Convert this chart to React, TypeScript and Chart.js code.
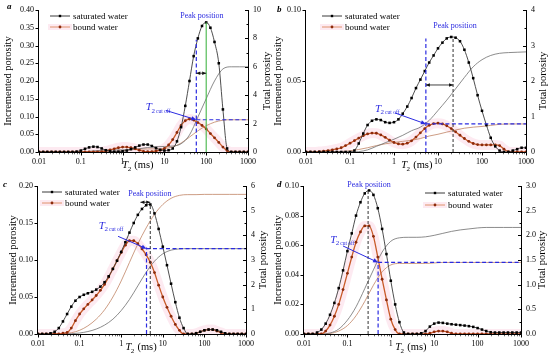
import React, { useEffect, useRef } from 'react';
import { Chart, registerables } from 'chart.js';
Chart.register(...registerables);

const FONT = "'Liberation Serif', 'Times New Roman', serif";

// T2 grid (ms), 10 points per decade
const T2 = [
  0.01, 0.0126, 0.0158, 0.02, 0.0251, 0.0316, 0.0398, 0.0501, 0.0631, 0.0794,
  0.1, 0.126, 0.158, 0.2, 0.251, 0.316, 0.398, 0.501, 0.631, 0.794,
  1, 1.26, 1.58, 2, 2.51, 3.16, 3.98, 5.01, 6.31, 7.94,
  10, 12.6, 15.8, 20, 25.1, 31.6, 39.8, 50.1, 63.1, 79.4,
  100, 126, 158, 200, 251, 316, 398, 501, 631, 794,
  1000,
];
// T2 grid for cumulative curves, 5 points per decade
const T2_CUM = [
  0.01, 0.0158, 0.0251, 0.0398, 0.0631, 0.1, 0.158, 0.251, 0.398, 0.631,
  1, 1.58, 2.51, 3.98, 6.31, 10, 15.8, 25.1, 39.8, 63.1,
  100, 158, 251, 398, 631, 1000,
];
const X_TICKS = [0.01, 0.1, 1, 10, 100, 1000];
const X_LABELS = ['0.01', '0.1', '1', '10', '100', '1000'];

// ---- panel a ----
const A_SAT = [
  0, 0, 0, 0, 0, 0, 0, 0, 0, 0.001,
  0.004, 0.009, 0.013, 0.015, 0.014, 0.01, 0.005, 0.002, 0.001, 0.001,
  0.002, 0.004, 0.008, 0.013, 0.018, 0.021, 0.021, 0.017, 0.011, 0.006,
  0.004, 0.005, 0.01, 0.03, 0.07, 0.13, 0.2, 0.27, 0.32, 0.355,
  0.365, 0.35, 0.31, 0.25, 0.12, 0.01, 0, 0, 0, 0,
  0,
];
const A_BND = [
  0, 0, 0, 0, 0, 0, 0, 0, 0, 0,
  0, 0, 0, 0, 0, 0.001, 0.003, 0.006, 0.009, 0.012,
  0.014, 0.014, 0.012, 0.009, 0.005, 0.002, 0.001, 0.001, 0.003, 0.005,
  0.01, 0.02, 0.035, 0.055, 0.075, 0.088, 0.093, 0.09, 0.083, 0.075,
  0.065, 0.052, 0.04, 0.027, 0.014, 0.004, 0, 0, 0, 0,
  0,
];
const A_SAT_CUM = [0, 0, 0, 0, 0, 0.005, 0.04, 0.1, 0.135, 0.145, 0.15, 0.17, 0.23, 0.32, 0.37, 0.39, 0.42, 0.58, 1.2, 2.45, 3.75, 5.0, 5.85, 6.0, 6.0, 6.0];
const A_BND_CUM = [0, 0, 0, 0, 0, 0, 0, 0, 0.005, 0.036, 0.093, 0.16, 0.2, 0.215, 0.223, 0.25, 0.355, 0.63, 1.05, 1.49, 1.85, 2.1, 2.24, 2.27, 2.27, 2.27];
const A_Y_TICKS = [0, 0.05, 0.1, 0.15, 0.2, 0.25, 0.3, 0.35, 0.4];
const A_Y_LABELS = ['0.00', '0.05', '0.10', '0.15', '0.20', '0.25', '0.30', '0.35', '0.40'];
const A_Y1_TICKS = [0, 2, 4, 6, 8, 10];
const A_Y1_LABELS = ['0', '2', '4', '6', '8', '10'];
// [cutoff T2, cutoff line top, bound level (right), peak T2, peak top, arrow y]
const A_MARKS = [58, 0.316, 2.27, 100, 0.365, 0.222];

// ---- panel b ----
const B_SAT = [
  0, 0, 0, 0, 0, 0, 0, 0, 0, 0,
  0, 0.001, 0.006, 0.013, 0.019, 0.022, 0.023, 0.0225, 0.021, 0.0205,
  0.021, 0.023, 0.027, 0.032, 0.038, 0.045, 0.051, 0.057, 0.063, 0.068,
  0.073, 0.077, 0.08, 0.081, 0.0805, 0.078, 0.072, 0.063, 0.052, 0.04,
  0.029, 0.019, 0.01, 0.004, 0.001, 0, 0, 0.001, 0.002, 0.003,
  0.003,
];
const B_BND = [
  0, 0, 0, 0.0003, 0.0006, 0.001, 0.0015, 0.0022, 0.003, 0.0045,
  0.0062, 0.008, 0.0098, 0.0115, 0.0127, 0.0133, 0.0132, 0.012, 0.0103, 0.0083,
  0.0067, 0.0057, 0.0055, 0.0062, 0.0079, 0.0105, 0.0135, 0.0165, 0.0188, 0.02,
  0.0203, 0.0198, 0.0185, 0.0165, 0.0142, 0.0118, 0.0095, 0.0075, 0.006, 0.0052,
  0.005, 0.005, 0.005, 0.005, 0.0045, 0.002, 0.0002, 0, 0, 0,
  0,
];
const B_SAT_CUM = [0, 0, 0, 0, 0, 0, 0.01, 0.06, 0.16, 0.26, 0.36, 0.47, 0.6, 0.7, 0.89, 1.17, 1.46, 1.78, 2.1, 2.4, 2.6, 2.72, 2.78, 2.8, 2.81, 2.82];
const B_BND_CUM = [0, 0, 0.002, 0.006, 0.015, 0.035, 0.07, 0.12, 0.18, 0.23, 0.27, 0.3, 0.33, 0.38, 0.45, 0.5, 0.56, 0.62, 0.67, 0.7, 0.72, 0.75, 0.78, 0.79, 0.79, 0.79];
const B_Y_TICKS = [0, 0.05, 0.1];
const B_Y_LABELS = ['0.00', '0.05', '0.10'];
const B_Y1_TICKS = [0, 1, 2, 3, 4];
const B_Y1_LABELS = ['0', '1', '2', '3', '4'];
const B_MARKS = [5.3, 0.08, 0.79, 22, 0.081, 0.0472];

// ---- panel c ----
const C_SAT = [
  0, 0, 0, 0.001, 0.003, 0.008, 0.017, 0.027, 0.037, 0.045,
  0.05, 0.053, 0.055, 0.057, 0.06, 0.064, 0.07, 0.078, 0.088, 0.099,
  0.111, 0.124, 0.137, 0.15, 0.161, 0.169, 0.174, 0.175, 0.163, 0.142,
  0.118, 0.093, 0.068, 0.043, 0.022, 0.008, 0, 0, 0.001, 0.003,
  0.005, 0.006, 0.006, 0.005, 0.003, 0.001, 0, 0, 0, 0,
  0,
];
const C_BND = [
  0, 0, 0, 0, 0, 0, 0.001, 0.002, 0.008, 0.018,
  0.027, 0.034, 0.04, 0.046, 0.052, 0.059, 0.067, 0.077, 0.088, 0.099,
  0.11, 0.12, 0.126, 0.126, 0.122, 0.115, 0.107, 0.097, 0.083, 0.066,
  0.05, 0.036, 0.024, 0.013, 0.005, 0, 0, 0, 0.001, 0.003,
  0.005, 0.006, 0.006, 0.004, 0.002, 0, 0, 0, 0, 0,
  0,
];
const C_SAT_CUM = [0, 0, 0, 0, 0.01, 0.04, 0.1, 0.2, 0.36, 0.6, 0.95, 1.4, 1.95, 2.5, 2.95, 3.25, 3.4, 3.45, 3.46, 3.46, 3.46, 3.46, 3.46, 3.46, 3.46, 3.46];
const C_BND_CUM = [0, 0, 0, 0.01, 0.05, 0.15, 0.33, 0.6, 0.98, 1.5, 2.15, 2.9, 3.65, 4.3, 4.85, 5.25, 5.5, 5.62, 5.65, 5.65, 5.66, 5.66, 5.66, 5.66, 5.66, 5.66];
const C_Y_TICKS = [0, 0.05, 0.1, 0.15, 0.2];
const C_Y_LABELS = ['0.00', '0.05', '0.10', '0.15', '0.20'];
const C_Y1_TICKS = [0, 1, 2, 3, 4, 5, 6];
const C_Y1_LABELS = ['0', '1', '2', '3', '4', '5', '6'];
const C_MARKS = [4.06, 0.117, 3.46, 5.0, 0.175, 0.178];

// ---- panel d ----
const D_SAT = [
  0, 0, 0, 0.001, 0.003, 0.007, 0.013, 0.021, 0.031, 0.043,
  0.056, 0.068, 0.08, 0.089, 0.095, 0.097, 0.094, 0.085, 0.071, 0.054,
  0.036, 0.02, 0.008, 0.001, 0, 0, 0, 0.0005, 0.002, 0.005,
  0.007, 0.0077, 0.0075, 0.007, 0.0066, 0.0063, 0.006, 0.0057, 0.0053, 0.0048,
  0.004, 0.003, 0.002, 0.0012, 0.001, 0.001, 0.001, 0.001, 0.001, 0.001,
  0.001,
];
const D_BND = [
  0, 0, 0, 0, 0, 0.002, 0.006, 0.012, 0.02, 0.03,
  0.041, 0.052, 0.062, 0.069, 0.073, 0.073, 0.066, 0.052, 0.037, 0.023,
  0.01, 0.003, 0, 0, 0, 0, 0, 0, 0, 0.0005,
  0.0015, 0.002, 0.002, 0.0015, 0.0005, 0, 0, 0, 0, 0,
  0, 0, 0, 0, 0, 0, 0, 0, 0, 0,
  0,
];
const D_SAT_CUM = [0, 0, 0, 0.02, 0.1, 0.28, 0.55, 0.92, 1.3, 1.66, 1.88, 1.95, 1.96, 1.96, 1.97, 2.0, 2.04, 2.08, 2.11, 2.13, 2.15, 2.16, 2.16, 2.16, 2.16, 2.16];
const D_BND_CUM = [0, 0, 0, 0.01, 0.06, 0.17, 0.37, 0.66, 0.99, 1.26, 1.4, 1.43, 1.43, 1.43, 1.43, 1.44, 1.45, 1.45, 1.45, 1.45, 1.45, 1.45, 1.45, 1.45, 1.45, 1.45];
const D_Y_TICKS = [0, 0.02, 0.04, 0.06, 0.08, 0.1];
const D_Y_LABELS = ['0.00', '0.02', '0.04', '0.06', '0.08', '0.10'];
const D_Y1_TICKS = [0, 0.5, 1, 1.5, 2, 2.5, 3];
const D_Y1_LABELS = ['0.0', '0.5', '1.0', '1.5', '2.0', '2.5', '3.0'];
const D_MARKS = [0.51, 0.0488, 1.45, 0.3, 0.097, null];

// ---- styles ----
const SAT_LINE = '#3a3a3a';
const SAT_MARK = '#000000';
const BND_LINE = '#c85a28';
const BND_MARK = '#8c2a0c';
const BND_GLOW = 'rgba(248, 186, 208, 0.3)';
const SAT_CUM_C = '#6f6f6f';
const BND_CUM_C = '#c08464';
const BLUE = '#2b2be0';
const GREEN = '#45b649';

const PANELS = [
  {
    letter: 'a', sat: A_SAT, bnd: A_BND, satCum: A_SAT_CUM, bndCum: A_BND_CUM,
    yTicks: A_Y_TICKS, yLabels: A_Y_LABELS, y1Ticks: A_Y1_TICKS, y1Labels: A_Y1_LABELS, marks: A_MARKS,
    pad: { left: 39, top: 10, right: 302, bottom: 209 },
    peakStyle: 'green', arrowFrom: 58,
    tLabel: [3.6, 0.118], tArrow: [10.9, 0.117], peakText: [79, 0.383], xTitle: 2.33,
    ytDx: -31, y1tDx: 19, legend: [11, 6], legendGap: 11, letterPos: [-32, -3],
  },
  {
    letter: 'b', sat: B_SAT, bnd: B_BND, satCum: B_SAT_CUM, bndCum: B_BND_CUM,
    yTicks: B_Y_TICKS, yLabels: B_Y_LABELS, y1Ticks: B_Y1_TICKS, y1Labels: B_Y1_LABELS, marks: B_MARKS,
    pad: { left: 306, top: 10, right: 24, bottom: 209 },
    peakStyle: 'dash', arrowFrom: 5.3,
    tLabel: [0.37, 0.0282], tArrow: [1.05, 0.0275], peakText: [24.3, 0.0887], xTitle: 3.3,
    ytDx: -28, y1tDx: 17, legend: [16, 6], legendGap: 11, letterPos: [-29, 0],
  },
  {
    letter: 'c', sat: C_SAT, bnd: C_BND, satCum: C_SAT_CUM, bndCum: C_BND_CUM,
    yTicks: C_Y_TICKS, yLabels: C_Y_LABELS, y1Ticks: C_Y1_TICKS, y1Labels: C_Y1_LABELS, marks: C_MARKS,
    pad: { left: 38, top: 186, right: 304, bottom: 27 },
    peakStyle: 'dash', arrowFrom: 2.9,
    tLabel: [0.29, 0.142], tArrow: [0.84, 0.132], peakText: [4.9, 0.189], xTitle: 3.0,
    ytDx: -25, y1tDx: 17, legend: [4, 6], legendGap: 11, letterPos: [-35, -1],
  },
  {
    letter: 'd', sat: D_SAT, bnd: D_BND, satCum: D_SAT_CUM, bndCum: D_BND_CUM,
    yTicks: D_Y_TICKS, yLabels: D_Y_LABELS, y1Ticks: D_Y1_TICKS, y1Labels: D_Y1_LABELS, marks: D_MARKS,
    pad: { left: 304, top: 186, right: 29, bottom: 27 },
    peakStyle: 'dash', arrowFrom: null,
    tLabel: [0.04, 0.0615], tArrow: [0.079, 0.0595], peakText: [0.315, 0.101], xTitle: 2.9,
    ytDx: -26, y1tDx: 21, legend: [121, 7], legendGap: 12, letterPos: [-27, -1],
  },
];

function arrowHead(ctx, x1, y1, x2, y2, len, half) {
  const a = Math.atan2(y2 - y1, x2 - x1);
  ctx.beginPath();
  ctx.moveTo(x2, y2);
  ctx.lineTo(x2 - len * Math.cos(a) + half * Math.sin(a), y2 - len * Math.sin(a) - half * Math.cos(a));
  ctx.lineTo(x2 - len * Math.cos(a) - half * Math.sin(a), y2 - len * Math.sin(a) + half * Math.cos(a));
  ctx.closePath();
  ctx.fill();
}

function decor(p) {
  return {
    id: 'decor' + p.letter,
    afterDraw(chart) {
      const { ctx, chartArea: ca, scales } = chart;
      const X = (v) => scales.x.getPixelForValue(v);
      const Y = (v) => scales.y.getPixelForValue(v);
      const Y1 = (v) => scales.y1.getPixelForValue(v);
      const [cut, cutTop, level, peak, peakTop, arrowY] = p.marks;
      ctx.save();

      // annotations
      ctx.lineWidth = 1.2;
      ctx.strokeStyle = BLUE;
      ctx.setLineDash([4, 2.5]);
      ctx.beginPath();
      ctx.moveTo(X(cut), Y(0));
      ctx.lineTo(X(cut), Y(cutTop));
      ctx.moveTo(X(cut), Y1(level));
      ctx.lineTo(ca.right, Y1(level));
      ctx.stroke();
      if (p.peakStyle === 'green') {
        ctx.setLineDash([]);
        ctx.strokeStyle = GREEN;
        ctx.lineWidth = 1.1;
      } else {
        ctx.setLineDash([3, 2]);
        ctx.strokeStyle = '#333';
        ctx.lineWidth = 1;
      }
      ctx.beginPath();
      ctx.moveTo(X(peak), Y(0));
      ctx.lineTo(X(peak), Y(peakTop));
      ctx.stroke();
      ctx.setLineDash([]);

      // horizontal double arrow between cutoff and peak
      if (p.arrowFrom !== null && arrowY !== null) {
        ctx.strokeStyle = '#111';
        ctx.fillStyle = '#111';
        ctx.lineWidth = 0.8;
        const xa = X(p.arrowFrom), xb = X(peak), ya = Y(arrowY);
        ctx.beginPath();
        ctx.moveTo(xa, ya);
        ctx.lineTo(xb, ya);
        ctx.stroke();
        arrowHead(ctx, xb, ya, xa, ya, 4, 1.8);
        arrowHead(ctx, xa, ya, xb, ya, 4, 1.8);
      }

      // T2 cut off label + arrow
      ctx.fillStyle = BLUE;
      let tx = X(p.tLabel[0]);
      const ty = Y(p.tLabel[1]);
      ctx.textBaseline = 'alphabetic';
      ctx.textAlign = 'left';
      ctx.font = `italic 11px ${FONT}`;
      ctx.fillText('T', tx, ty);
      tx += ctx.measureText('T').width - 0.5;
      ctx.font = `7px ${FONT}`;
      ctx.fillText('2', tx, ty + 2.5);
      tx += ctx.measureText('2').width + 1;
      ctx.font = `5.5px ${FONT}`;
      ctx.fillText('cut off', tx, ty + 2.5);
      ctx.strokeStyle = BLUE;
      ctx.lineWidth = 1;
      const ax1 = X(p.tArrow[0]), ay1 = Y(p.tArrow[1]);
      const ax2 = X(cut), ay2 = Y1(level);
      const ang = Math.atan2(ay2 - ay1, ax2 - ax1);
      ctx.beginPath();
      ctx.moveTo(ax1, ay1);
      ctx.lineTo(ax2 - 4 * Math.cos(ang), ay2 - 4 * Math.sin(ang));
      ctx.stroke();
      arrowHead(ctx, ax1, ay1, ax2, ay2, 5, 2.2);

      // Peak position text
      ctx.font = `8px ${FONT}`;
      ctx.textAlign = 'center';
      ctx.textBaseline = 'middle';
      ctx.fillStyle = BLUE;
      ctx.fillText('Peak position', X(p.peakText[0]), Y(p.peakText[1]));

      // axes lines
      ctx.strokeStyle = '#000';
      ctx.lineWidth = 1;
      const L = Math.round(ca.left) - 0.5;
      const R = Math.round(ca.right) + 0.5;
      const B = Math.round(ca.bottom) + 0.5;
      const T = Math.round(ca.top);
      ctx.beginPath();
      ctx.moveTo(L, T);
      ctx.lineTo(L, B);
      ctx.lineTo(R, B);
      ctx.lineTo(R, T);
      p.yTicks.forEach((v) => {
        const y = Math.round(Y(v)) + 0.5;
        ctx.moveTo(L - 3, y);
        ctx.lineTo(L, y);
      });
      X_TICKS.forEach((v) => {
        const x = Math.round(X(v)) + 0.5;
        ctx.moveTo(x, B);
        ctx.lineTo(x, B + 3);
      });
      p.y1Ticks.forEach((v, i) => {
        const y = Math.round(Y1(v)) + 0.5;
        ctx.moveTo(R - 3.5, y);
        ctx.lineTo(R, y);
        if (i < p.y1Ticks.length - 1) {
          const ym = Math.round(Y1((v + p.y1Ticks[i + 1]) / 2)) + 0.5;
          ctx.moveTo(R - 2, ym);
          ctx.lineTo(R, ym);
        }
      });
      ctx.stroke();
      ctx.lineWidth = 0.6;
      ctx.beginPath();
      X_TICKS.slice(0, -1).forEach((d) => {
        for (let m = 2; m <= 9; m++) {
          const x = Math.round(X(d * m)) + 0.5;
          ctx.moveTo(x, B);
          ctx.lineTo(x, B + 1.8);
        }
      });
      ctx.stroke();

      // axis titles
      ctx.fillStyle = '#000';
      ctx.font = `10.5px ${FONT}`;
      ctx.textAlign = 'center';
      ctx.textBaseline = 'middle';
      const midY = (ca.top + ca.bottom) / 2;
      ctx.save();
      ctx.translate(ca.left + p.ytDx, midY);
      ctx.rotate(-Math.PI / 2);
      ctx.fillText('Incremented porosity', 0, 0);
      ctx.restore();
      ctx.save();
      ctx.translate(ca.right + p.y1tDx, midY);
      ctx.rotate(-Math.PI / 2);
      ctx.fillText('Total porosity', 0, 0);
      ctx.restore();

      // x title T2 (ms)
      ctx.textBaseline = 'alphabetic';
      ctx.textAlign = 'left';
      ctx.font = `italic 10.5px ${FONT}`;
      const wT = ctx.measureText('T').width;
      ctx.font = `7px ${FONT}`;
      const w2 = ctx.measureText('2').width;
      ctx.font = `10.5px ${FONT}`;
      const wS = ctx.measureText(' (ms)').width;
      let xx = X(p.xTitle) - (wT + w2 + wS) / 2;
      const by = ca.bottom + 16;
      ctx.font = `italic 10.5px ${FONT}`;
      ctx.fillText('T', xx, by);
      xx += wT - 0.5;
      ctx.font = `7px ${FONT}`;
      ctx.fillText('2', xx, by + 2.5);
      xx += w2 + 0.5;
      ctx.font = `10.5px ${FONT}`;
      ctx.fillText(' (ms)', xx, by);

      // legend
      const lx = ca.left + p.legend[0];
      const items = [
        { text: 'saturated water', line: SAT_LINE, mark: SAT_MARK, rect: true },
        { text: 'bound water', line: '#e0906c', mark: BND_MARK, rect: false },
      ];
      items.forEach((it, i) => {
        const ly = ca.top + p.legend[1] + i * p.legendGap;
        if (!it.rect) {
          ctx.fillStyle = BND_GLOW;
          ctx.fillRect(lx - 2, ly - 3, 24, 6);
        }
        ctx.strokeStyle = it.line;
        ctx.lineWidth = 1;
        ctx.beginPath();
        ctx.moveTo(lx, ly);
        ctx.lineTo(lx + 20, ly);
        ctx.stroke();
        ctx.fillStyle = it.mark;
        if (it.rect) ctx.fillRect(lx + 8.8, ly - 1.2, 2.4, 2.4);
        else {
          ctx.beginPath();
          ctx.arc(lx + 10, ly, 1.4, 0, Math.PI * 2);
          ctx.fill();
        }
        ctx.fillStyle = '#000';
        ctx.font = `9px ${FONT}`;
        ctx.textAlign = 'left';
        ctx.textBaseline = 'middle';
        ctx.fillText(it.text, lx + 23, ly + 0.5);
      });

      // panel letter
      ctx.font = `bold italic 9px ${FONT}`;
      ctx.fillStyle = '#000';
      ctx.textAlign = 'left';
      ctx.textBaseline = 'middle';
      ctx.fillText(p.letter, ca.left + p.letterPos[0], ca.top + p.letterPos[1]);

      ctx.restore();
    },
  };
}

function pts(xs, ys) {
  return xs.map((x, i) => ({ x, y: ys[i] }));
}

function yScale(pos, max, ticks, labels, size) {
  return {
    type: 'linear',
    position: pos,
    min: 0,
    max,
    afterBuildTicks: (s) => {
      s.ticks = ticks.map((v) => ({ value: v }));
    },
    afterFit: (s) => {
      s.width = size;
    },
    grid: { display: false, drawTicks: false },
    border: { display: false },
    ticks: {
      callback: (v, i) => labels[i],
      font: { family: FONT, size: 8 },
      color: '#000',
      padding: 5,
      autoSkip: false,
    },
  };
}

function makeChart(canvas, p) {
  return new Chart(canvas, {
    type: 'line',
    data: {
      datasets: [
        {
          label: 'saturated water', data: pts(T2, p.sat), yAxisID: 'y', order: 0,
          borderColor: SAT_LINE, borderWidth: 0.9, pointStyle: 'rect', pointRadius: 1.8,
          pointBackgroundColor: SAT_MARK, pointBorderWidth: 0, cubicInterpolationMode: 'monotone',
        },
        {
          label: 'bound water', data: pts(T2, p.bnd), yAxisID: 'y', order: 1,
          borderColor: BND_LINE, borderWidth: 1.3, pointStyle: 'circle', pointRadius: 1.4,
          pointBackgroundColor: BND_MARK, pointBorderWidth: 0, cubicInterpolationMode: 'monotone',
        },
        {
          label: 'saturated cumulative', data: pts(T2_CUM, p.satCum), yAxisID: 'y1', order: 2,
          borderColor: SAT_CUM_C, borderWidth: 0.8, pointRadius: 0, cubicInterpolationMode: 'monotone',
        },
        {
          label: 'bound cumulative', data: pts(T2_CUM, p.bndCum), yAxisID: 'y1', order: 3,
          borderColor: BND_CUM_C, borderWidth: 0.8, pointRadius: 0, cubicInterpolationMode: 'monotone',
        },
        {
          label: 'bound glow', data: pts(T2, p.bnd), yAxisID: 'y', order: 10,
          borderColor: BND_GLOW, borderWidth: 10, pointRadius: 0, cubicInterpolationMode: 'monotone',
        },
      ],
    },
    options: {
      animation: false,
      responsive: false,
      devicePixelRatio: 1,
      events: [],
      layout: { padding: { left: 0, right: 0, bottom: 0, top: p.pad.top } },
      plugins: { legend: { display: false }, tooltip: { enabled: false } },
      scales: {
        x: {
          type: 'logarithmic',
          position: 'bottom',
          min: 0.01,
          max: 1000,
          afterBuildTicks: (s) => {
            s.ticks = X_TICKS.map((v) => ({ value: v }));
          },
          afterFit: (s) => {
            s.height = p.pad.bottom;
          },
          grid: { display: false, drawTicks: false },
          border: { display: false },
          ticks: {
            callback: (v, i) => X_LABELS[i],
            font: { family: FONT, size: 8 },
            color: '#000',
            padding: 5,
            maxRotation: 0,
            autoSkip: false,
          },
        },
        y: yScale('left', p.yTicks[p.yTicks.length - 1], p.yTicks, p.yLabels, p.pad.left),
        y1: yScale('right', p.y1Ticks[p.y1Ticks.length - 1], p.y1Ticks, p.y1Labels, p.pad.right),
      },
    },
    plugins: [decor(p)],
  });
}

function Panel({ p }) {
  const ref = useRef(null);
  useEffect(() => {
    const c = makeChart(ref.current, p);
    return () => c.destroy();
  }, []);
  return (
    <canvas
      ref={ref}
      width={550}
      height={361}
      style={{ position: 'absolute', left: 0, top: 0, width: 550, height: 361 }}
    />
  );
}

export default function App() {
  return (
    <div style={{ position: 'fixed', left: 0, top: 0, width: 550, height: 361, background: '#fff', overflow: 'hidden' }}>
      {PANELS.map((p) => (
        <Panel key={p.letter} p={p} />
      ))}
    </div>
  );
}
